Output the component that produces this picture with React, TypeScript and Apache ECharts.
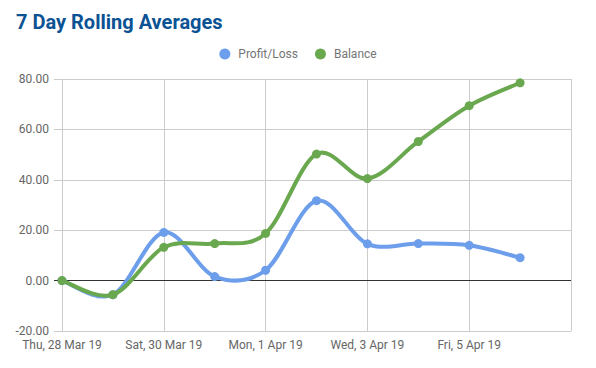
import React, { useEffect, useRef } from "react";
import * as echarts from "echarts";

const categories = [
  "Thu, 28 Mar 19",
  "Fri, 29 Mar 19",
  "Sat, 30 Mar 19",
  "Sun, 31 Mar 19",
  "Mon, 1 Apr 19",
  "Tue, 2 Apr 19",
  "Wed, 3 Apr 19",
  "Thu, 4 Apr 19",
  "Fri, 5 Apr 19",
  "Sat, 6 Apr 19",
  "Sun, 7 Apr 19",
];
const profitLoss = [0, -5.6, 19.1, 1.6, 4.1, 31.7, 14.6, 14.7, 14.0, 9.1];
const balance = [0, -5.6, 13.2, 14.7, 18.7, 50.2, 40.5, 55.2, 69.4, 78.5];
const yMin = -20;
const yMax = 80;
const yStep = 20;
const baseline = 0;

const BLUE = "#6d9eeb";
const GREEN = "#6aa84f";

function curveSeries(name: string, values: number[], color: string, z: number) {
  return {
    name,
    type: "custom",
    coordinateSystem: "cartesian2d",
    silent: true,
    z,
    encode: { x: 0, y: 1 },
    data: values.map((v, i) => [i, v]),
    renderItem: (params: any, api: any) => {
      if (params.dataIndex !== 0) return null;
      const pts = values.map((v, i) => api.coord([i, v]) as number[]);
      let d = `M${pts[0][0]},${pts[0][1]}`;
      for (let i = 0; i < pts.length - 1; i++) {
        const p0 = pts[Math.max(0, i - 1)];
        const p1 = pts[i];
        const p2 = pts[i + 1];
        const p3 = pts[Math.min(pts.length - 1, i + 2)];
        const c1x = p1[0] + (p2[0] - p0[0]) / 6;
        const c1y = p1[1] + (p2[1] - p0[1]) / 6;
        const c2x = p2[0] - (p3[0] - p1[0]) / 6;
        const c2y = p2[1] - (p3[1] - p1[1]) / 6;
        d += ` C${c1x},${c1y} ${c2x},${c2y} ${p2[0]},${p2[1]}`;
      }
      return {
        type: "path",
        shape: { pathData: d },
        style: { stroke: color, lineWidth: 4, fill: null, lineJoin: "round", lineCap: "round" },
      };
    },
  };
}

function pointSeries(name: string, values: number[], color: string, z: number) {
  return {
    name,
    type: "line",
    data: values,
    symbol: "circle",
    symbolSize: 9,
    itemStyle: { color },
    lineStyle: { width: 0, opacity: 0, color },
    z,
  };
}

export default function App() {
  const ref = useRef<HTMLDivElement>(null);
  useEffect(() => {
    if (!ref.current) return;
    const chart = echarts.init(ref.current, undefined, { renderer: "svg" });
    const font = "Roboto";
    chart.setOption({
      animation: false,
      backgroundColor: "#ffffff",
      textStyle: { fontFamily: font },
      title: {
        text: "7 Day Rolling Averages",
        left: 16,
        top: 12,
        padding: 0,
        textStyle: {
          fontFamily: font,
          fontSize: 20,
          fontWeight: "bold",
          color: "#0b5394",
        },
      },
      legend: {
        top: 48,
        left: "center",
        icon: "circle",
        itemWidth: 11,
        itemHeight: 11,
        itemGap: 17,
        padding: 0,
        textStyle: { fontFamily: font, fontSize: 12, color: "#757575", padding: [0, 0, 0, 3] },
        data: [
          { name: "Profit/Loss", itemStyle: { color: BLUE } },
          { name: "Balance", itemStyle: { color: GREEN } },
        ],
      },
      grid: { left: 62, right: 25, top: 79, bottom: 37, containLabel: false },
      xAxis: {
        type: "category",
        data: categories,
        boundaryGap: false,
        axisLine: { show: true, onZero: false, lineStyle: { color: "#cccccc" } },
        axisTick: { show: false },
        axisLabel: {
          interval: (i: number) => i % 2 === 0 && i < categories.length - 1,
          color: "#666666",
          fontFamily: font,
          fontSize: 12,
          margin: 8,
        },
        splitLine: {
          show: true,
          interval: (i: number) => i % 2 === 0,
          lineStyle: { color: "#cccccc", width: 1 },
        },
      },
      yAxis: [
        {
          type: "value",
          min: yMin,
          max: yMax,
          interval: yStep,
          axisLine: { show: false },
          axisTick: { show: true, length: 8, lineStyle: { color: "#cccccc" } },
          axisLabel: {
            formatter: (v: number) => v.toFixed(2),
            color: "#666666",
            fontFamily: font,
            fontSize: 12,
            margin: 13,
          },
          splitLine: { show: true, lineStyle: { color: "#cccccc", width: 1 } },
        },
        {
          type: "value",
          position: "left",
          min: yMin,
          max: yMax,
          interval: yStep,
          z: 5,
          axisLine: { show: false },
          axisTick: {
            show: true,
            length: 8,
            customValues: [baseline],
            lineStyle: { color: "#333333" },
          },
          axisLabel: { show: false },
          splitLine: { show: false },
        },
      ],
      series: [
        {
          ...curveSeries("pl-curve", profitLoss, BLUE, 2),
          markLine: {
            silent: true,
            symbol: "none",
            label: { show: false },
            lineStyle: { color: "#333333", width: 1, type: "solid" },
            data: [{ yAxis: baseline }],
            z: 1,
          },
        },
        pointSeries("Profit/Loss", profitLoss, BLUE, 3),
        curveSeries("bal-curve", balance, GREEN, 4),
        pointSeries("Balance", balance, GREEN, 5),
      ],
    });
    return () => chart.dispose();
  }, []);
  return (
    <div
      ref={ref}
      style={{ position: "fixed", left: 0, top: 0, width: 596, height: 368 }}
    />
  );
}
